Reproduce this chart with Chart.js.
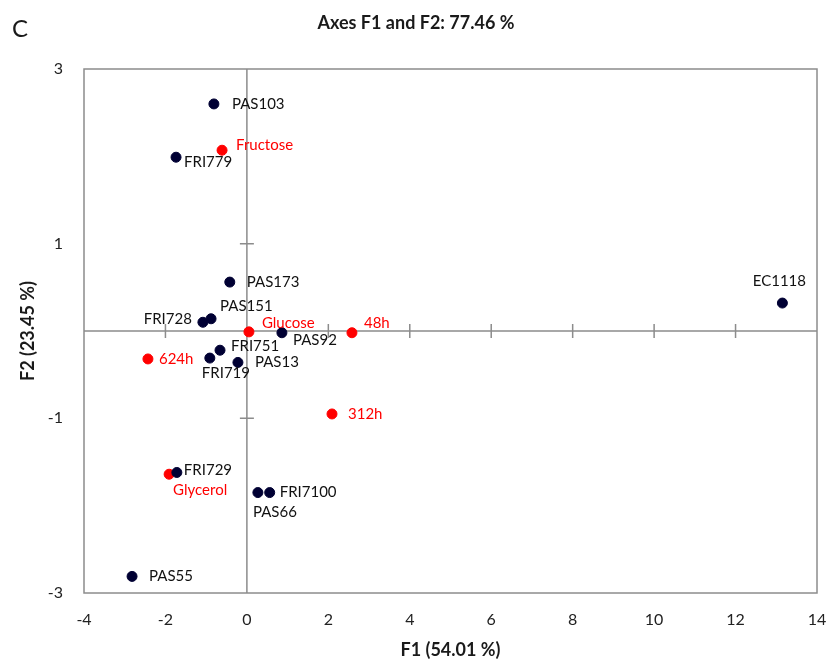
<!DOCTYPE html>
<html>
<head>
<meta charset="utf-8">
<script src="https://cdn.jsdelivr.net/npm/chart.js@4.4.1/dist/chart.umd.min.js"></script>
<style>
  html, body { margin: 0; padding: 0; background: #fff; }
  canvas { display: block; }
</style>
</head>
<body>
<canvas id="pca" width="828" height="661"></canvas>
<script>
// strains (observations)
const strainNames = ['PAS103', 'FRI779', 'PAS173', 'PAS151', 'FRI728', 'PAS92', 'EC1118',
                     'FRI751', 'FRI719', 'PAS13', 'FRI729', 'PAS66', 'FRI7100', 'PAS55'];
const strainF1 = [-0.81, -1.74, -0.42, -0.88, -1.08, 0.86, 13.15, -0.66, -0.91, -0.22, -1.72, 0.27, 0.56, -2.82];
const strainF2 = [2.60, 1.99, 0.56, 0.14, 0.10, -0.02, 0.32, -0.22, -0.31, -0.36, -1.62, -1.85, -1.85, -2.81];

// variables (supplementary)
const varNames = ['Fructose', 'Glucose', '48h', '624h', '312h', 'Glycerol'];
const varF1 = [-0.61, 0.05, 2.58, -2.43, 2.09, -1.91];
const varF2 = [2.07, -0.01, -0.02, -0.32, -0.95, -1.64];

// axis range / tick step
const xRange = [-4, 14];
const yRange = [-3, 3];
const xStep = 2;
const yStep = 2;

// where each label sits relative to its dot: [dx, dy, align]
const labelPlace = {
  'PAS103': [18, 0, 'left'],
  'FRI779': [8, 5, 'left'],
  'PAS173': [17, 0, 'left'],
  'PAS151': [9, -13, 'left'],
  'FRI728': [-11, -3, 'right'],
  'PAS92': [11, 7, 'left'],
  'EC1118': [-3, -22, 'center'],
  'FRI751': [11, -4, 'left'],
  'FRI719': [-8, 15, 'left'],
  'PAS13': [17, 0, 'left'],
  'FRI729': [7, -2, 'left'],
  'PAS66': [-5, 20, 'left'],
  'FRI7100': [10, 0, 'left'],
  'PAS55': [17, 0, 'left'],
  'Fructose': [14, -5, 'left'],
  'Glucose': [13, -9, 'left'],
  '48h': [12, -10, 'left'],
  '624h': [11, 0, 'left'],
  '312h': [16, 0, 'left'],
  'Glycerol': [4, 16, 'left']
};

const frameColor = '#8c8c8c';
const fontFam = 'Lato, "Open Sans", sans-serif';

function toPoints(xs, ys, names) {
  return xs.map((x, i) => ({ x: x, y: ys[i], name: names[i] }));
}

// frame, zero axes with cross ticks, title and panel letter
const decorPlugin = {
  id: 'decor',
  beforeDatasetsDraw(chart) {
    const { ctx, chartArea: a, scales: { x, y } } = chart;
    const x0 = x.getPixelForValue(0);
    const y0 = y.getPixelForValue(0);
    ctx.save();
    ctx.strokeStyle = frameColor;
    ctx.lineWidth = 1.5;
    ctx.strokeRect(a.left, a.top, a.right - a.left, a.bottom - a.top);
    ctx.beginPath();
    ctx.moveTo(x0, a.top); ctx.lineTo(x0, a.bottom);
    ctx.moveTo(a.left, y0); ctx.lineTo(a.right, y0);
    for (let v = xRange[0] + xStep; v < xRange[1]; v += xStep) {
      if (v === 0) continue;
      const px = x.getPixelForValue(v);
      ctx.moveTo(px, y0 - 7); ctx.lineTo(px, y0 + 7);
    }
    for (let v = yRange[0] + yStep; v < yRange[1]; v += yStep) {
      if (v === 0) continue;
      const py = y.getPixelForValue(v);
      ctx.moveTo(x0 - 7, py); ctx.lineTo(x0 + 7, py);
    }
    ctx.stroke();
    ctx.restore();
  },
  afterDraw(chart) {
    const ctx = chart.ctx;
    ctx.save();
    ctx.fillStyle = '#1a1a1a';
    ctx.textBaseline = 'middle';
    ctx.textAlign = 'center';
    ctx.font = 'bold 18px ' + fontFam;
    ctx.fillText('Axes F1 and F2: 77.46 %', 416, 23);
    ctx.textAlign = 'left';
    ctx.font = '24px ' + fontFam;
    ctx.fillText('C', 12, 29);
    ctx.restore();
  }
};

const labelPlugin = {
  id: 'pointLabels',
  afterDatasetsDraw(chart) {
    const ctx = chart.ctx;
    ctx.save();
    ctx.font = '15px ' + fontFam;
    ctx.textBaseline = 'middle';
    chart.data.datasets.forEach((ds, di) => {
      const meta = chart.getDatasetMeta(di);
      ctx.fillStyle = ds.labelColor;
      meta.data.forEach((el, i) => {
        const name = ds.data[i].name;
        const p = labelPlace[name] || [10, 0, 'left'];
        ctx.textAlign = p[2];
        ctx.fillText(name, el.x + p[0], el.y + p[1]);
      });
    });
    ctx.restore();
  }
};

new Chart(document.getElementById('pca'), {
  type: 'scatter',
  data: {
    datasets: [
      {
        label: 'Strains',
        data: toPoints(strainF1, strainF2, strainNames),
        backgroundColor: '#000033',
        borderColor: '#000033',
        pointRadius: 5,
        labelColor: '#111'
      },
      {
        label: 'Variables',
        data: toPoints(varF1, varF2, varNames),
        backgroundColor: '#ff0000',
        borderColor: '#ff0000',
        pointRadius: 5,
        labelColor: '#ff0000'
      }
    ]
  },
  options: {
    responsive: false,
    animation: false,
    layout: { padding: { top: 69, right: 11, left: 0, bottom: 0 } },
    plugins: {
      legend: { display: false },
      tooltip: { enabled: false },
      title: { display: false }
    },
    scales: {
      x: {
        type: 'linear',
        min: xRange[0],
        max: xRange[1],
        ticks: { stepSize: xStep, padding: 17, color: '#222', font: { size: 16, family: fontFam } },
        grid: { display: false, drawTicks: false },
        border: { display: false },
        title: {
          display: true,
          text: 'F1 (54.01 %)',
          color: '#1a1a1a',
          font: { size: 18, weight: 'bold', family: fontFam },
          padding: { top: 0, bottom: 0 }
        },
        afterFit(scale) {
          scale.height = 68;
          scale.paddingLeft = 0;
          scale.paddingRight = 0;
        }
      },
      y: {
        type: 'linear',
        min: yRange[0],
        max: yRange[1],
        ticks: { stepSize: yStep, padding: 21, color: '#222', font: { size: 16, family: fontFam } },
        grid: { display: false, drawTicks: false },
        border: { display: false },
        title: {
          display: true,
          text: 'F2 (23.45 %)',
          color: '#1a1a1a',
          font: { size: 18, weight: 'bold', family: fontFam },
          padding: { top: 17, bottom: 0 }
        },
        afterFit(scale) { scale.width = 84; }
      }
    }
  },
  plugins: [decorPlugin, labelPlugin]
});
</script>
</body>
</html>
